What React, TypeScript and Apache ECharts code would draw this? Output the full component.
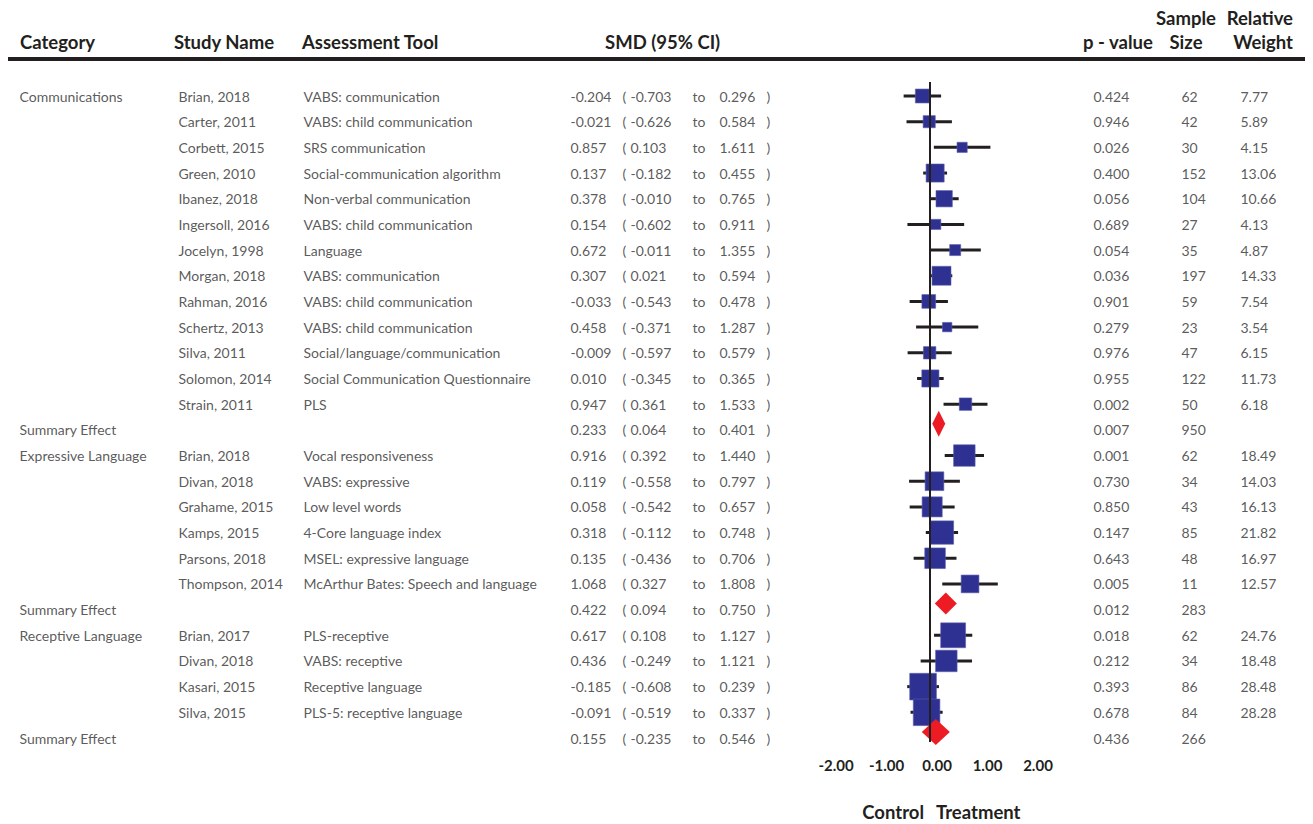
import React, { useEffect, useRef } from "react";
import * as echarts from "echarts";

// ---------- DATA ----------
const rowCategories = [
  "Communications", "", "", "", "", "", "", "", "", "", "", "", "",
  "Summary Effect",
  "Expressive Language", "", "", "", "", "",
  "Summary Effect",
  "Receptive Language", "", "", "",
  "Summary Effect",
];

const studyNames = [
  "Brian, 2018", "Carter, 2011", "Corbett, 2015", "Green, 2010", "Ibanez, 2018",
  "Ingersoll, 2016", "Jocelyn, 1998", "Morgan, 2018", "Rahman, 2016", "Schertz, 2013",
  "Silva, 2011", "Solomon, 2014", "Strain, 2011",
  "",
  "Brian, 2018", "Divan, 2018", "Grahame, 2015", "Kamps, 2015", "Parsons, 2018", "Thompson, 2014",
  "",
  "Brian, 2017", "Divan, 2018", "Kasari, 2015", "Silva, 2015",
  "",
];

const assessmentTools = [
  "VABS: communication", "VABS: child communication", "SRS communication",
  "Social-communication algorithm", "Non-verbal communication", "VABS: child communication",
  "Language", "VABS: communication", "VABS: child communication", "VABS: child communication",
  "Social/language/communication", "Social Communication Questionnaire", "PLS",
  "",
  "Vocal responsiveness", "VABS: expressive", "Low level words", "4-Core language index",
  "MSEL: expressive language", "McArthur Bates: Speech and language",
  "",
  "PLS-receptive", "VABS: receptive", "Receptive language", "PLS-5: receptive language",
  "",
];

const smd = [
  -0.204, -0.021, 0.857, 0.137, 0.378, 0.154, 0.672, 0.307, -0.033, 0.458, -0.009, 0.01, 0.947,
  0.233,
  0.916, 0.119, 0.058, 0.318, 0.135, 1.068,
  0.422,
  0.617, 0.436, -0.185, -0.091,
  0.155,
];

const ciLower = [
  -0.703, -0.626, 0.103, -0.182, -0.01, -0.602, -0.011, 0.021, -0.543, -0.371, -0.597, -0.345, 0.361,
  0.064,
  0.392, -0.558, -0.542, -0.112, -0.436, 0.327,
  0.094,
  0.108, -0.249, -0.608, -0.519,
  -0.235,
];

const ciUpper = [
  0.296, 0.584, 1.611, 0.455, 0.765, 0.911, 1.355, 0.594, 0.478, 1.287, 0.579, 0.365, 1.533,
  0.401,
  1.44, 0.797, 0.657, 0.748, 0.706, 1.808,
  0.75,
  1.127, 1.121, 0.239, 0.337,
  0.546,
];

const pValues = [
  0.424, 0.946, 0.026, 0.4, 0.056, 0.689, 0.054, 0.036, 0.901, 0.279, 0.976, 0.955, 0.002,
  0.007,
  0.001, 0.73, 0.85, 0.147, 0.643, 0.005,
  0.012,
  0.018, 0.212, 0.393, 0.678,
  0.436,
];

const sampleSizes = [
  62, 42, 30, 152, 104, 27, 35, 197, 59, 23, 47, 122, 50,
  950,
  62, 34, 43, 85, 48, 11,
  283,
  62, 34, 86, 84,
  266,
];

const relativeWeights: (number | null)[] = [
  7.77, 5.89, 4.15, 13.06, 10.66, 4.13, 4.87, 14.33, 7.54, 3.54, 6.15, 11.73, 6.18,
  null,
  18.49, 14.03, 16.13, 21.82, 16.97, 12.57,
  null,
  24.76, 18.48, 28.48, 28.28,
  null,
];

const summaryRows = [13, 20, 25];
const xTickMin = -2;
const xTickMax = 2;
const xTickStep = 1;

// ---------- LAYOUT / STYLE ----------
const W = 1313;
const H = 824;
const ROW0 = 96;
const ROW_H = 25.68;
const N = rowCategories.length;
const FONT = "Lato, 'Open Sans', sans-serif";
const BODY_COLOR = "#2f2f2f";
const HEAD_COLOR = "#231f20";
const SQUARE_COLOR = "#2e3192";
const DIAMOND_COLOR = "#ed1c24";
const diamondSizes = [[13, 26], [22, 22], [28, 26]];

const App: React.FC = () => {
  const ref = useRef<HTMLDivElement>(null);

  useEffect(() => {
    if (!ref.current) return;
    const chart = echarts.init(ref.current, undefined, { renderer: "svg" });

    const rows = Array.from({ length: N }, (_, i) => i);
    const studyRows = rows.filter((i) => !summaryRows.includes(i));

    const forestTop = 82;
    const forestBottom = 742;
    const yMinF = (forestTop - ROW0) / ROW_H;
    const yMaxF = (forestBottom - ROW0) / ROW_H;

    const tableTop = ROW0 - 0.5 * ROW_H;

    const textCol = (x: number, texts: string[], extra: any = {}) => ({
      type: "scatter",
      xAxisIndex: 1,
      yAxisIndex: 1,
      silent: true,
      symbol: "circle",
      symbolSize: 1,
      itemStyle: { color: "transparent" },
      emphasis: { disabled: true },
      data: texts
        .map((t, i) => ({ name: t, value: [x, i] }))
        .filter((d) => d.name !== ""),
      label: {
        show: true,
        position: "right",
        distance: 0,
        formatter: "{b}",
        color: BODY_COLOR,
        fontFamily: FONT,
        fontSize: 14,
        ...extra,
      },
      z: 5,
    });

    const f3 = (v: number) => v.toFixed(3);

    const option: any = {
      animation: false,
      backgroundColor: "#ffffff",
      grid: [
        { left: 855, width: 150, top: forestTop, height: forestBottom - forestTop },
        { left: 0, width: W, top: tableTop, height: N * ROW_H },
        { left: 836, width: 202, top: 700, height: 50 },
      ],
      xAxis: [
        { gridIndex: 0, type: "value", min: -2, max: 2, show: false },
        { gridIndex: 1, type: "value", min: 0, max: W, show: false },
        {
          gridIndex: 2,
          type: "value",
          min: xTickMin,
          max: xTickMax,
          interval: xTickStep,
          axisLine: { show: false },
          axisTick: { show: false },
          splitLine: { show: false },
          axisLabel: {
            showMinLabel: true,
            showMaxLabel: true,
            margin: 7,
            formatter: (v: number) => v.toFixed(2),
            color: HEAD_COLOR,
            fontFamily: FONT,
            fontWeight: "bold",
            fontSize: 15,
          },
        },
      ],
      yAxis: [
        { gridIndex: 0, type: "value", inverse: true, min: yMinF, max: yMaxF, show: false },
        { gridIndex: 1, type: "value", inverse: true, min: -0.5, max: N - 0.5, show: false },
        { gridIndex: 2, type: "value", show: false },
      ],
      series: [
        {
          type: "custom",
          xAxisIndex: 0,
          yAxisIndex: 0,
          silent: true,
          clip: false,
          data: studyRows.map((i) => [ciLower[i], ciUpper[i], i]),
          encode: { x: [0, 1], y: 2 },
          renderItem: (_params: any, api: any) => {
            const p1 = api.coord([api.value(0), api.value(2)]);
            const p2 = api.coord([api.value(1), api.value(2)]);
            return {
              type: "line",
              shape: { x1: p1[0], y1: p1[1], x2: p2[0], y2: p2[1] },
              style: { stroke: HEAD_COLOR, lineWidth: 3 },
            };
          },
          markLine: {
            silent: true,
            symbol: "none",
            label: { show: false },
            lineStyle: { color: HEAD_COLOR, width: 2, type: "solid", opacity: 1 },
            data: [{ xAxis: 0 }],
          },
          z: 2,
        },
        {
          type: "scatter",
          xAxisIndex: 0,
          yAxisIndex: 0,
          silent: true,
          symbol: "rect",
          itemStyle: { color: SQUARE_COLOR, opacity: 1, borderColor: "#5a5da8", borderWidth: 0.6 },
          data: studyRows.map((i) => ({
            value: [smd[i], i],
            symbolSize: 5 * Math.sqrt(relativeWeights[i] as number),
          })),
          z: 3,
        },
        {
          type: "scatter",
          xAxisIndex: 0,
          yAxisIndex: 0,
          silent: true,
          symbol: "diamond",
          symbolOffset: [0, -6],
          itemStyle: { color: DIAMOND_COLOR, opacity: 1 },
          data: summaryRows.map((i, k) => ({
            value: [smd[i], i],
            symbolSize: diamondSizes[k],
          })),
          z: 3,
        },
        textCol(19, rowCategories),
        textCol(178, studyNames),
        textCol(303, assessmentTools),
        textCol(570, smd.map(f3)),
        textCol(622, rows.map(() => "(")),
        textCol(630, ciLower.map(f3)),
        textCol(692, rows.map(() => "to")),
        textCol(719, ciUpper.map(f3)),
        textCol(766, rows.map(() => ")")),
        textCol(1093, pValues.map(f3)),
        textCol(1181, sampleSizes.map((v) => String(v))),
        textCol(1240, relativeWeights.map((v) => (v == null ? "" : v.toFixed(2)))),
      ],
      graphic: [
        {
          type: "line",
          shape: { x1: 8, y1: 59, x2: 1305, y2: 59 },
          style: { stroke: HEAD_COLOR, lineWidth: 4 },
          silent: true,
        },
        ...[
          { t: "Category", x: 20, y: 42, a: "left" },
          { t: "Study Name", x: 174, y: 42, a: "left" },
          { t: "Assessment Tool", x: 302, y: 42, a: "left" },
          { t: "SMD (95% CI)", x: 605, y: 42, a: "left" },
          { t: "p - value", x: 1083, y: 42, a: "left" },
          { t: "Sample", x: 1186, y: 18, a: "center" },
          { t: "Size", x: 1186, y: 42, a: "center" },
          { t: "Relative", x: 1293, y: 18, a: "right" },
          { t: "Weight", x: 1293, y: 42, a: "right" },
          { t: "Control", x: 924, y: 812, a: "right" },
          { t: "Treatment", x: 936, y: 812, a: "left" },
        ].map((h) => ({
          type: "text",
          x: h.x,
          y: h.y,
          silent: true,
          style: {
            text: h.t,
            fill: HEAD_COLOR,
            font: `bold 18.5px ${FONT}`,
            lineHeight: 19,
            align: h.a,
            verticalAlign: "middle",
          },
        })),
      ],
    };

    chart.setOption(option);
    return () => chart.dispose();
  }, []);

  return (
    <div
      ref={ref}
      style={{ position: "absolute", left: 0, top: 0, width: W, height: H }}
    />
  );
};

export default App;
